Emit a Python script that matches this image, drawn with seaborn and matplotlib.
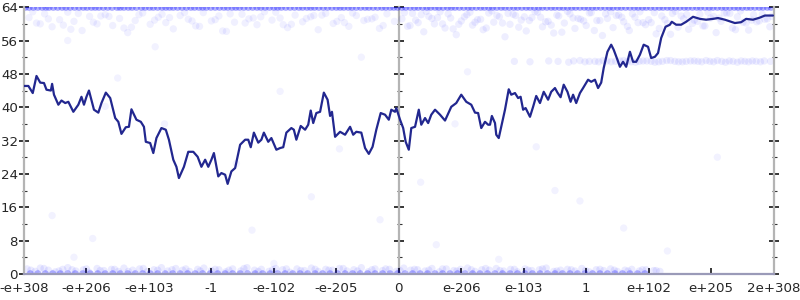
import matplotlib
matplotlib.use("Agg")
import matplotlib.pyplot as plt
import seaborn as sns
import numpy as np

# ---------------- data ----------------
x_tick_pos = [-6, -5, -4, -3, -2, -1, 0, 1, 2, 3, 4, 5, 6]
x_tick_labels = ["-e+308", "-e+206", "-e+103", "-1", "-e-102", "-e-205", "0",
                 "e-206", "e-103", "1", "e+102", "e+205", "2e+308"]
y_major = [0, 8, 16, 24, 32, 40, 48, 56, 64]
y_minor = [4, 12, 20, 28, 36, 44, 52, 60]

line_x = [-6.0, -5.93, -5.86, -5.80, -5.74, -5.68, -5.64, -5.57, -5.55, -5.52, -5.45, -5.40, -5.34, -5.29,
          -5.21, -5.13, -5.08, -5.04, -5.00, -4.96, -4.88, -4.81, -4.76, -4.69, -4.62, -4.54, -4.49, -4.44,
          -4.37, -4.32, -4.28, -4.20, -4.13, -4.08, -4.05, -3.98, -3.93, -3.88, -3.80, -3.73, -3.68, -3.61,
          -3.56, -3.52, -3.44, -3.37, -3.29, -3.22, -3.16, -3.10, -3.05, -3.00, -2.96, -2.89, -2.84, -2.78,
          -2.74, -2.68, -2.62, -2.54, -2.46, -2.41, -2.37, -2.32, -2.25, -2.20, -2.16, -2.09, -2.04, -1.96,
          -1.90, -1.85, -1.80, -1.72, -1.68, -1.64, -1.57, -1.50, -1.45, -1.41, -1.37, -1.32, -1.26, -1.20,
          -1.14, -1.10, -1.07, -1.02, -0.94, -0.86, -0.78, -0.73, -0.68, -0.60, -0.54, -0.48, -0.42, -0.36,
          -0.29, -0.22, -0.16, -0.12, -0.06, -0.04, 0.02, 0.07, 0.11, 0.16, 0.20, 0.26, 0.29, 0.32, 0.36,
          0.42, 0.47, 0.52, 0.58, 0.66, 0.74, 0.84, 0.92, 1.00, 1.08, 1.16, 1.22, 1.27, 1.32, 1.38, 1.43,
          1.46, 1.49, 1.54, 1.56, 1.60, 1.64, 1.70, 1.76, 1.80, 1.86, 1.91, 1.95, 1.99, 2.03, 2.10, 2.15,
          2.20, 2.26, 2.32, 2.39, 2.44, 2.50, 2.54, 2.59, 2.64, 2.70, 2.75, 2.79, 2.84, 2.90, 2.95, 3.03,
          3.08, 3.14, 3.19, 3.24, 3.28, 3.34, 3.40, 3.44, 3.50, 3.54, 3.59, 3.64, 3.70, 3.75, 3.80, 3.86,
          3.92, 3.99, 4.04, 4.10, 4.15, 4.20, 4.27, 4.34, 4.37, 4.44, 4.52, 4.60, 4.71, 4.82, 4.92, 5.03,
          5.11, 5.22, 5.38, 5.48, 5.56, 5.67, 5.78, 5.86, 5.99]
line_y = [45.1, 45.1, 43.4, 47.5, 45.9, 45.8, 44.2, 44.0, 45.6, 43.0, 40.6, 41.6, 41.0, 41.3,
          38.9, 40.6, 42.5, 40.6, 42.5, 44.0, 39.4, 38.7, 41.0, 43.5, 42.2, 37.4, 36.5, 33.6,
          35.2, 35.3, 39.5, 37.0, 36.5, 35.3, 31.7, 31.4, 29.0, 32.6, 35.0, 34.6, 32.2, 27.4,
          25.7, 23.0, 25.7, 29.3, 29.3, 28.1, 25.7, 27.4, 25.7, 27.4, 29.0, 23.4, 24.2, 23.8,
          21.6, 24.6, 25.4, 31.0, 32.2, 32.2, 30.4, 33.9, 31.5, 32.2, 33.9, 31.7, 32.6, 29.8,
          30.2, 30.4, 33.9, 35.0, 34.6, 32.2, 35.5, 34.6, 35.8, 39.2, 36.2, 38.6, 38.9, 43.5,
          41.8, 37.9, 38.9, 32.9, 34.1, 33.4, 35.3, 33.4, 34.1, 33.9, 30.2, 28.8, 30.5, 34.6,
          38.6, 38.2, 37.0, 39.4, 38.9, 39.8, 37.0, 35.0, 31.7, 29.8, 35.0, 35.3, 37.4, 39.4, 35.8,
          37.4, 36.2, 38.2, 39.4, 38.2, 36.8, 40.1, 41.0, 43.0, 41.3, 40.6, 38.7, 38.6, 35.0, 36.5, 35.8,
          35.8, 37.9, 36.2, 33.4, 32.6, 35.3, 39.4, 44.3, 43.0, 43.4, 42.2, 42.5, 39.4, 39.8, 37.7, 40.1,
          42.7, 41.0, 43.7, 41.8, 43.7, 44.6, 43.5, 42.4, 45.4, 43.7, 41.3, 43.0, 41.0, 43.4, 44.6, 46.6,
          46.1, 46.6, 44.6, 45.9, 49.4, 53.3, 55.0, 53.8, 51.4, 49.7, 50.9, 49.7, 53.3, 50.9, 50.9, 52.6,
          55.0, 54.5, 51.8, 52.1, 53.0, 56.6, 59.3, 59.8, 60.5, 59.8, 59.8, 60.5, 61.7, 61.2, 61.0, 61.2,
          61.4, 61.0, 60.2, 60.4, 61.2, 61.0, 61.5, 62.0, 62.0]

# faint sample points
top_line_x = [-5.98, -5.92, -5.85, -5.78, -5.71, -5.65, -5.6, -5.53, -5.46, -5.39, -5.33, -5.26, -5.19,
              -5.12, -5.05, -4.99, -4.92, -4.86, -4.8, -4.73, -4.66, -4.59, -4.51, -4.46, -4.4, -4.33,
              -4.27, -4.2, -4.12, -4.06, -3.99, -3.93, -3.86, -3.79, -3.73, -3.67, -3.61, -3.54, -3.47,
              -3.4, -3.33, -3.27, -3.2, -3.14, -3.08, -3.01, -2.94, -2.87, -2.8, -2.74, -2.67, -2.61,
              -2.55, -2.48, -2.41, -2.34, -2.27, -2.21, -2.14, -2.07, -2.0, -1.94, -1.88, -1.81, -1.74,
              -1.67, -1.6, -1.54, -1.47, -1.41, -1.35, -1.28, -1.21, -1.14, -1.07, -1.0, -0.94, -0.88,
              -0.81, -0.75, -0.68, -0.61, -0.54, -0.48, -0.41, -0.34, -0.27, -0.21, -0.14, -0.08, -0.02,
              0.05, 0.11, 0.18, 0.25, 0.31, 0.38, 0.45, 0.51, 0.58, 0.64, 0.71, 0.78, 0.84, 0.9, 0.97,
              1.04, 1.11, 1.17, 1.24, 1.31, 1.37, 1.44, 1.5, 1.57, 1.64, 1.7, 1.77, 1.84, 1.9, 1.97,
              2.04, 2.1, 2.17, 2.24, 2.3, 2.37, 2.44, 2.5, 2.57, 2.63, 2.7, 2.77, 2.83, 2.9, 2.97, 3.03,
              3.1, 3.16, 3.23, 3.3, 3.37, 3.43, 3.5, 3.56, 3.63, 3.7, 3.77, 3.83, 3.9, 3.96, 4.03, 4.1,
              4.17, 4.23, 4.3, 4.36, 4.43, 4.5, 4.57, 4.63, 4.7, 4.77, 4.83, 4.9, 4.97, 5.03, 5.1, 5.17,
              5.23, 5.3, 5.37, 5.43, 5.5, 5.57, 5.63, 5.7, 5.77, 5.83, 5.9, 5.96]
top_line_y = [64.0] * len(top_line_x)

top_left_x = [-5.92, -5.8, -5.67, -5.55, -5.43, -5.3, -5.2, -5.07, -4.95, -4.83, -4.7, -4.58, -4.47,
              -4.34, -4.22, -4.1, -3.98, -3.85, -3.73, -3.61, -3.5, -3.37, -3.25, -3.13, -3.0, -2.88,
              -2.76, -2.63, -2.51, -2.4, -2.27, -2.15, -2.03, -1.9, -1.78, -1.66, -1.54, -1.41, -1.29,
              -1.17, -1.05, -0.92, -0.8, -0.68, -0.56, -0.43, -0.31, -0.19, -0.07,
              -5.86, -5.61, -5.37, -5.13, -4.89, -4.64, -4.4, -4.16, -3.91, -3.67, -3.43, -3.19, -2.94,
              -2.7, -2.46, -2.21, -1.97, -1.72, -1.48, -1.23, -0.99, -0.74, -0.5, -0.25, -5.74, -5.25,
              -4.77, -4.28, -3.79, -3.31, -2.82, -2.33, -1.85, -1.36, -0.87, -0.38]
top_left_y = [61.5, 60.2, 62.4, 59.3, 61.0, 62.8, 60.6, 58.4, 61.8, 60.0, 62.2, 59.6, 61.3,
              57.9, 60.8, 62.6, 59.9, 61.6, 60.3, 58.8, 62.0, 61.1, 59.5, 62.7, 60.7, 61.9,
              58.2, 60.4, 62.3, 61.2, 59.8, 62.9, 60.9, 61.4, 59.1, 62.1, 60.5, 61.7, 58.6,
              62.5, 60.1, 61.5, 59.4, 62.0, 60.8, 61.2, 58.9, 62.4, 60.6,
              62.9, 61.2, 59.7, 62.5, 60.4, 61.8, 59.0, 62.2, 60.9, 61.5, 62.7, 59.4, 61.0,
              62.4, 60.2, 61.7, 62.8, 59.9, 61.3, 62.1, 60.6, 62.6, 61.1, 59.6, 60.0, 58.7,
              61.9, 59.2, 62.3, 60.7, 58.3, 61.4, 59.8, 62.0, 60.3, 61.6]

top_right_x = [0.05, 0.14, 0.22, 0.31, 0.4, 0.48, 0.57, 0.66, 0.74, 0.83, 0.92, 1.0, 1.09, 1.18,
               1.26, 1.35, 1.44, 1.52, 1.61, 1.7, 1.78, 1.87, 1.96, 2.04, 2.13, 2.22, 2.3, 2.39,
               2.48, 2.56, 2.65, 2.74, 2.82, 2.91, 3.0, 3.08, 3.17, 3.26, 3.34, 3.43, 3.52, 3.6,
               3.69, 3.78, 3.86, 3.95, 4.04, 4.12, 4.21, 4.3, 4.38, 4.47, 4.56, 4.64, 4.73, 4.82,
               4.9, 4.99, 5.08, 5.16, 5.25, 5.34, 5.42, 5.51, 5.6, 5.68, 5.77, 5.86, 5.94,
               0.09, 0.27, 0.44, 0.62, 0.79, 0.96, 1.14, 1.31, 1.49, 1.66, 1.83, 2.01, 2.18, 2.35,
               2.53, 2.7, 2.87, 3.05, 3.22, 3.39, 3.57, 3.74, 3.91, 4.09, 4.26, 4.43, 4.61, 4.78,
               4.95, 5.13, 5.3, 5.47, 5.65, 5.82, 5.97,
               0.18, 0.53, 0.87, 1.22, 1.57, 1.92, 2.27, 2.61, 2.96, 3.31, 3.66, 4.0, 4.35, 4.7,
               5.04, 5.39, 5.73, 0.36, 0.7, 1.05, 1.4, 1.75, 2.09, 2.44, 2.79, 3.13, 3.48, 3.83,
               4.17, 4.52, 4.87, 5.21, 5.56, 5.9]
top_right_y = [61.2, 59.4, 62.5, 60.3, 58.1, 61.8, 60.0, 62.9, 59.0, 61.4, 57.4, 60.7, 62.2, 59.7,
               61.0, 58.6, 62.6, 60.4, 61.7, 56.9, 59.9, 62.0, 60.9, 58.3, 61.5, 62.8, 59.3, 60.6,
               57.8, 61.9, 60.2, 62.4, 58.9, 61.1, 59.6, 62.7, 60.8, 57.2, 61.3, 59.1, 62.1, 60.5,
               58.4, 61.6, 62.9, 59.8, 60.3, 57.6, 61.9, 60.1, 62.5, 59.2, 61.2, 58.7, 60.9, 62.3,
               59.5, 61.4, 57.9, 60.6, 62.6, 59.0, 61.7, 60.4, 58.5, 62.2, 60.7, 61.1, 59.3,
               62.7, 60.9, 63.0, 61.5, 62.4, 59.9, 62.8, 61.1, 63.1, 60.2, 62.3, 61.7, 62.9, 60.5,
               62.1, 63.0, 61.3, 62.6, 60.8, 62.9, 61.6, 62.4, 60.3, 62.7, 61.0, 63.0, 62.2, 60.6,
               62.8, 61.4, 62.5, 63.1, 60.9, 62.3, 61.8,
               59.6, 61.3, 58.8, 60.4, 62.0, 59.2, 61.6, 58.0, 60.7, 62.4, 59.4, 61.0, 57.5, 60.1,
               61.8, 58.6, 60.5, 62.2, 60.0, 61.7, 59.0, 62.5, 60.8, 59.7, 61.4, 58.4, 62.0, 60.3,
               58.9, 61.9, 59.5, 62.6, 60.2, 61.2]

bottom_x = [-5.95, -5.82, -5.74, -5.61, -5.5, -5.38, -5.3, -5.17, -5.05, -4.96, -4.83, -4.72, -4.6,
            -4.49, -4.4, -4.26, -4.15, -4.03, -3.92, -3.8, -3.7, -3.57, -3.46, -3.35, -3.22, -3.12,
            -3.0, -2.88, -2.77, -2.66, -2.53, -2.43, -2.31, -2.2, -2.08, -1.97, -1.86, -1.74, -1.63,
            -1.51, -1.4, -1.29, -1.17, -1.06, -0.95, -0.83, -0.72, -0.6, -0.49, -0.38, -0.26, -0.15,
            -0.04, 0.08, 0.19, 0.3, 0.42, 0.53, 0.65, 0.76, 0.88, 0.99, 1.1, 1.22, 1.33, 1.45, 1.56,
            1.68, 1.79, 1.9, 2.02, 2.13, 2.25, 2.36, 2.48, 2.59, 2.7, 2.82, 2.93, 3.05, 3.16, 3.28,
            3.39, 3.5, 3.62, 3.73, 3.85, 3.96, 4.08, 4.18,
            -5.89, -5.68, -5.44, -5.23, -5.0, -4.78, -4.55, -4.33, -4.09, -3.86, -3.63, -3.41, -3.18,
            -2.94, -2.72, -2.48, -2.25, -2.02, -1.8, -1.57, -1.34, -1.12, -0.89, -0.66, -0.43, -0.21,
            0.02, 0.25, 0.48, 0.7, 0.93, 1.16, 1.39, 1.62, 1.85, 2.07, 2.3, 2.53, 2.76, 2.99, 3.22,
            3.45, 3.67, 3.9, 4.12]
bottom_y = [1.2, 0.6, 1.4, 0.9, 0.5, 1.1, 1.5, 0.7, 1.0, 0.4, 1.3, 0.8, 1.1,
            0.6, 1.4, 0.9, 1.2, 0.5, 1.0, 1.5, 0.7, 1.3, 0.9, 0.6, 1.1, 1.4,
            0.8, 1.0, 0.5, 1.2, 0.7, 1.5, 0.9, 1.1, 0.6, 1.3, 1.0, 0.4, 1.2,
            0.8, 1.4, 0.6, 1.1, 0.9, 1.3, 0.7, 1.0, 1.5, 0.5, 1.2, 0.8, 1.1,
            0.6, 1.4, 0.9, 1.0, 0.7, 1.3, 0.5, 1.2, 0.8, 1.1, 1.4, 0.6, 1.0, 0.9, 1.3,
            0.7, 1.1, 0.5, 1.2, 0.8, 1.0, 1.4, 0.6, 0.9, 1.1, 0.7, 1.3, 0.5, 1.0, 0.8,
            1.2, 0.6, 0.9, 1.1, 0.7, 1.0, 0.8, 0.6,
            0.9, 1.3, 0.7, 1.0, 1.2, 0.8, 1.1, 0.6, 1.3, 0.9, 1.0, 1.2, 0.7,
            1.1, 0.9, 1.3, 0.6, 1.0, 1.2, 0.8, 1.1, 0.9, 1.3, 0.7, 1.0, 1.2,
            0.8, 1.1, 0.9, 1.2, 0.7, 1.0, 1.3, 0.8, 1.1, 0.9, 1.2, 0.7, 1.0, 0.8, 1.1,
            0.9, 0.7, 1.0, 0.8]

zero_x = [-5.9, -5.78, -5.66, -5.54, -5.42, -5.3, -5.18, -5.06, -4.94, -4.82, -4.7, -4.58, -4.46,
          -4.34, -4.22, -4.1, -3.98, -3.86, -3.74, -3.62, -3.5, -3.38, -3.26, -3.14, -3.02, -2.9,
          -2.78, -2.66, -2.54, -2.42, -2.3, -2.18, -2.06, -1.94, -1.82, -1.7, -1.58, -1.46, -1.34,
          -1.22, -1.1, -0.98, -0.86, -0.74, -0.62, -0.5, -0.38, -0.26, -0.14, -0.02, 0.1, 0.22,
          0.34, 0.46, 0.58, 0.7, 0.82, 0.94, 1.06, 1.18, 1.3, 1.42, 1.54, 1.66, 1.78, 1.9, 2.02,
          2.14, 2.26, 2.38, 2.5, 2.62, 2.74, 2.86, 2.98, 3.1, 3.22, 3.34, 3.46, 3.58, 3.7, 3.82, 3.94]
zero_y = [0.0] * len(zero_x)

band51_x = [1.85, 2.1, 2.4, 2.55, 2.72, 2.9, 3.05, 3.2, 3.33, 3.47, 3.6, 3.72, 3.85, 3.97, 4.1,
            4.22, 4.35, 4.48, 4.6, 4.73, 4.85, 4.98, 5.1, 5.23, 5.35, 5.48, 5.6, 5.72, 5.85, 5.95,
            2.8, 2.98, 3.14, 3.27, 3.4, 3.54, 3.66, 3.79, 3.91, 4.04, 4.16, 4.29, 4.42, 4.54, 4.67,
            4.79, 4.92, 5.04, 5.17, 5.29, 5.42, 5.54, 5.66, 5.79]
band51_y = [51.0, 50.9, 51.1, 51.0, 50.8, 51.2, 51.0, 50.9, 51.1, 51.0, 51.2, 50.9, 51.0, 51.1, 50.8,
            51.0, 51.2, 50.9, 51.0, 51.1, 50.9, 51.0, 51.2, 50.8, 51.0, 51.1, 50.9, 51.0, 51.1, 51.0,
            51.1, 50.9, 51.0, 51.2, 50.9, 51.1, 51.0, 50.8, 51.1, 51.0, 50.9, 51.2, 51.0, 50.9, 51.1,
            51.0, 51.2, 50.9, 51.0, 51.1, 50.8, 51.0, 51.1, 50.9]

sparse_x = [-5.55, -5.2, -4.9, -4.7, -3.9, -3.75, -2.6, -2.35, -1.9, -1.4, -0.95, -0.6, -0.3, 0.35,
            0.6, 1.1, 1.6, 2.2, 2.9, 3.6, 4.3, 5.1, -5.3, -4.5, -2.0, 0.9, 2.5]
sparse_y = [14.0, 4.0, 8.5, 40.2, 54.5, 36.0, 26.5, 10.5, 43.8, 18.5, 30.0, 52.0, 13.0, 22.0,
            7.0, 48.5, 3.5, 30.5, 17.5, 11.0, 5.5, 28.0, 56.0, 47.0, 2.5, 36.0, 20.0]

# ---------------- style ----------------
sns.set_theme(style="white")
plt.rcParams['font.family'] = ['DejaVu Sans']

LINE_COLOR = "#22278f"
PT_COLOR = "#0000ff"
GRAY = "#b4b4b4"

fig = plt.figure(figsize=(8, 3), dpi=100)
ax = fig.add_axes([0.03, 0.087, 0.937, 0.889])


def faint(xs, ys, alpha, size):
    n = min(len(xs), len(ys))
    sns.scatterplot(x=xs[:n], y=ys[:n], ax=ax, color=PT_COLOR, alpha=alpha, s=size,
                    edgecolor="none", legend=False, zorder=2)


faint(top_left_x, top_left_y, 0.06, 28)
faint(top_right_x, top_right_y, 0.065, 28)
faint(bottom_x, bottom_y, 0.08, 28)
faint(band51_x, band51_y, 0.07, 28)
faint(sparse_x, sparse_y, 0.05, 28)
faint(top_line_x, top_line_y, 0.3, 28)
faint(zero_x, zero_y, 0.28, 28)

sns.lineplot(x=line_x, y=line_y, ax=ax, color=LINE_COLOR, linewidth=1.6,
             estimator=None, sort=False, zorder=4)

ax.set_xlim(-6, 6)
ax.set_ylim(0, 64)
ax.set_xlabel("")
ax.set_ylabel("")

# spines
for side in ["left", "right", "bottom"]:
    ax.spines[side].set_visible(True)
    ax.spines[side].set_color(GRAY)
    ax.spines[side].set_linewidth(1.6)
ax.spines["top"].set_visible(False)
ax.spines["bottom"].set_color("#9a9ab8")

# x ticks
ax.set_xticks(x_tick_pos)
ax.set_xticklabels(x_tick_labels)
ax.tick_params(axis="x", which="major", direction="in", length=4.5, width=1.1,
               color="black", labelsize=9.6, pad=6, bottom=True)

# y ticks
ax.set_yticks(y_major)
ax.set_yticks(y_minor, minor=True)
ax.tick_params(axis="y", which="major", direction="inout", length=7, width=1.1,
               color="black", labelsize=9.6, pad=1.0, left=True, right=True, labelright=False)
ax.tick_params(axis="y", which="minor", direction="inout", length=3.6, width=0.8,
               color="#333333", left=True, right=True)

# central axis at x = 0
sec = ax.secondary_yaxis(0.5)
sec.set_yticks(y_major)
sec.set_yticks(y_minor, minor=True)
sec.set_yticklabels([])
sec.tick_params(axis="y", which="major", direction="inout", length=7, width=1.1, color="black")
sec.tick_params(axis="y", which="minor", direction="inout", length=3.6, width=0.8, color="#333333")
for sp in sec.spines.values():
    sp.set_color(GRAY)
    sp.set_linewidth(1.6)

fig.savefig("out.png", dpi=100)
